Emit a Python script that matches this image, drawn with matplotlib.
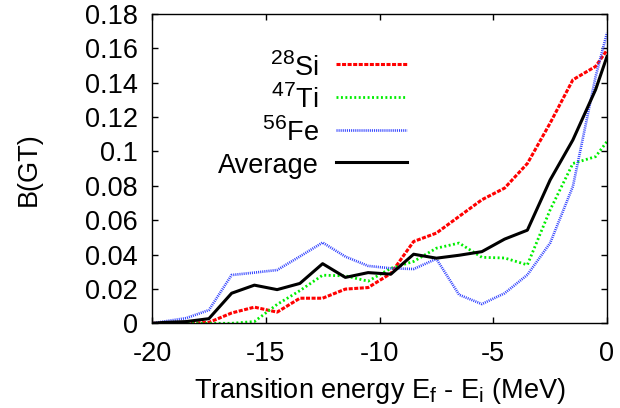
import matplotlib
matplotlib.use("Agg")
import matplotlib.pyplot as plt
try:
    import matplotlib._mathtext as _mt
    _mt.SHRINK_FACTOR = 0.78
except Exception:
    pass

plt.rcParams['font.family'] = ['Liberation Sans', 'DejaVu Sans']
plt.rcParams['mathtext.fontset'] = 'custom'
plt.rcParams['mathtext.rm'] = 'Liberation Sans'
plt.rcParams['mathtext.it'] = 'Liberation Sans'
plt.rcParams['lines.scale_dashes'] = False

energy = [-20, -19.5, -18.5, -17.5, -16.5, -15.5, -14.5, -13.5, -12.5, -11.5, -10.5,
          -9.5, -8.5, -7.5, -6.5, -5.5, -4.5, -3.5, -2.5, -1.5, -0.5, 0]
si28 = [0, 0, 0, 0.0005, 0.006, 0.0094, 0.0065, 0.0146, 0.0146, 0.0199, 0.0208,
        0.029, 0.0476, 0.0525, 0.0622, 0.0719, 0.0787, 0.093, 0.1165, 0.1417, 0.1495, 0.159]
ti47 = [0, 0, 0, 0, 0, 0.001, 0.011, 0.019, 0.028, 0.0276, 0.0245,
        0.032, 0.036, 0.0437, 0.0467, 0.0384, 0.038, 0.034, 0.066, 0.093, 0.097, 0.1058]
fe56 = [0, 0.001, 0.003, 0.0077, 0.0281, 0.0295, 0.031, 0.0389, 0.047, 0.0388, 0.0334,
        0.032, 0.0316, 0.0375, 0.0166, 0.0112, 0.0175, 0.0282, 0.0467, 0.0796, 0.1436, 0.169]
average = [0, 0.0005, 0.001, 0.0027, 0.0175, 0.0222, 0.0196, 0.0232, 0.0347, 0.0267, 0.0295,
           0.0286, 0.0402, 0.0379, 0.0396, 0.0417, 0.049, 0.0542, 0.0834, 0.1067, 0.136, 0.1553]

labels = [r'$^{28}$Si', r'$^{47}$Ti', r'$^{56}$Fe', 'Average']
xticks = [-20, -15, -10, -5, 0]
yticks = [0, 0.02, 0.04, 0.06, 0.08, 0.1, 0.12, 0.14, 0.16, 0.18]
yticklabels = ['0', '0.02', '0.04', '0.06', '0.08', '0.1', '0.12', '0.14', '0.16', '0.18']

FS = 19.5

fig = plt.figure(figsize=(6.2, 4.08), dpi=100)
ax = fig.add_axes([152/620, 1-323.3/408, 455/620, 309.3/408])

l1, = ax.plot(energy, si28, color='#ff0000', lw=2.2, dashes=(2.9, 1.1), dash_capstyle='butt')
l2, = ax.plot(energy, ti47, color='#00ee00', lw=2.0, dashes=(1.4, 1.8), dash_capstyle='butt')
l3, = ax.plot(energy, fe56, color='#3344ff', lw=1.9, dashes=(0.75, 0.75), dash_capstyle='butt')
l4, = ax.plot(energy, average, color='black', lw=2.2)

ax.set_xlim(-20, 0)
ax.set_ylim(0, 0.18)
ax.set_xticks(xticks)
ax.set_xticklabels([str(t) for t in xticks])
ax.set_yticks(yticks)
ax.set_yticklabels(yticklabels)
ax.tick_params(direction='in', top=True, right=True, length=4, width=1, labelsize=FS, pad=10)
ax.tick_params(axis='x', pad=13)
for s in ax.spines.values():
    s.set_linewidth(1)

ax.set_xlabel(r'Transition energy E$_{\mathrm{f}}$ - E$_{\mathrm{i}}$ (MeV)', fontsize=FS, labelpad=6)
ax.set_ylabel('B(GT)', fontsize=FS, labelpad=31)

leg = ax.legend([l1, l2, l3, l4], labels, markerfirst=False, frameon=False,
                loc='upper right', bbox_to_anchor=(0.590, 0.92), fontsize=FS,
                handlelength=2.6, handletextpad=0.65, labelspacing=0.125,
                handleheight=1.2, borderpad=0)

fig.savefig('out.png', dpi=100)
